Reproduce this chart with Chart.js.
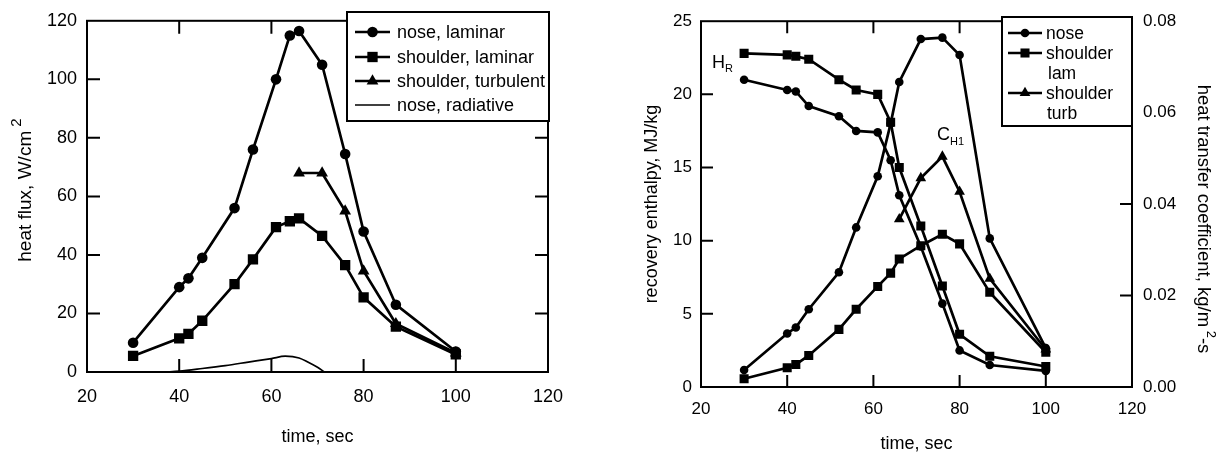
<!DOCTYPE html>
<html>
<head>
<meta charset="utf-8">
<title>Heat flux and recovery enthalpy</title>
<script src="https://cdn.jsdelivr.net/npm/chart.js@4.4.1/dist/chart.umd.min.js"></script>
<style>
  body { margin: 0; background: #fff; }
  #wrap { position: relative; width: 1229px; height: 454px; overflow: hidden; }
  #heatChart { position: absolute; left: 0; top: 0; }
  #coefChart { position: absolute; left: 600px; top: 0; }
</style>
</head>
<body>
<div id="wrap">
  <canvas id="heatChart" width="600" height="454"></canvas>
  <canvas id="coefChart" width="629" height="454"></canvas>
</div>
<script>
// heat flux (left plot)
const fluxTime = [30, 40, 42, 45, 52, 56, 61, 64, 66, 71, 76, 80, 87, 100];
const noseLaminar = [10, 29, 32, 39, 56, 76, 100, 115, 116.5, 105, 74.5, 48, 23, 7];
const shoulderLaminar = [5.5, 11.5, 13, 17.5, 30, 38.5, 49.5, 51.5, 52.5, 46.5, 36.5, 25.5, 15.5, 6];
const turbTime = [66, 71, 76, 80, 87, 100];
const shoulderTurbulent = [68, 68, 55, 34.5, 16.5, 6.5];
const radTime = [37, 40, 45, 50, 55, 60, 63, 66, 68, 70, 71.5];
const noseRadiative = [0, 0.3, 1.2, 2.2, 3.4, 4.6, 5.4, 4.8, 3.3, 1.6, 0];

// recovery enthalpy + heat transfer coefficient (right plot)
const trajTime = [30, 40, 42, 45, 52, 56, 61, 64, 66, 71, 76, 80, 87, 100];
const enthalpyNose = [21.0, 20.3, 20.2, 19.2, 18.5, 17.5, 17.4, 15.5, 13.1, 9.6, 5.7, 2.5, 1.5, 1.1];
const enthalpyShoulder = [22.8, 22.7, 22.6, 22.4, 21.0, 20.3, 20.0, 18.1, 15.0, 11.0, 6.9, 3.6, 2.1, 1.4];
const coefNose = [0.0037, 0.0117, 0.013, 0.017, 0.0251, 0.0349, 0.0461, 0.0576, 0.0667, 0.0761, 0.0764, 0.0726, 0.0325, 0.0085];
const coefShoulderLam = [0.0018, 0.0042, 0.0049, 0.0069, 0.0126, 0.017, 0.022, 0.0249, 0.028, 0.0309, 0.0334, 0.0313, 0.0207, 0.0076];
const coefShoulderTurb = [0.0367, 0.0457, 0.0504, 0.0427, 0.0237, 0.0082];

const timeTicks = [20, 40, 60, 80, 100, 120];

const FONT = "'Liberation Sans', Arial, Helvetica, sans-serif";
Chart.defaults.font.family = FONT;
Chart.defaults.color = '#000';

function pts(xs, ys) {
  return xs.map((x, i) => ({ x: x, y: ys[i] }));
}

function series(label, xs, ys, style, r, axis) {
  return {
    label: label,
    data: pts(xs, ys),
    yAxisID: axis || 'y',
    borderColor: '#000',
    backgroundColor: '#000',
    borderWidth: 2.7,
    pointStyle: style,
    pointRadius: r,
    pointBorderWidth: 0,
    pointBackgroundColor: '#000',
    tension: 0
  };
}

// text with a raised or lowered small part, laid out from (x, y)
function drawParts(ctx, parts, x, y, align) {
  let w = 0;
  parts.forEach(p => { ctx.font = p.size + 'px ' + FONT; w += ctx.measureText(p.text).width; });
  let cx = align === 'center' ? x - w / 2 : x;
  ctx.textAlign = 'left';
  ctx.textBaseline = 'alphabetic';
  parts.forEach(p => {
    ctx.font = p.size + 'px ' + FONT;
    ctx.fillText(p.text, cx, y + (p.dy || 0));
    cx += ctx.measureText(p.text).width;
  });
}

// frame, inward ticks, titles, legend, labels
const framePlugin = {
  id: 'frame',
  afterDraw(chart, args, o) {
    const ctx = chart.ctx, a = chart.chartArea;
    ctx.save();
    ctx.strokeStyle = '#000';
    ctx.fillStyle = '#000';
    ctx.lineWidth = 2;
    ctx.strokeRect(a.left, a.top, a.right - a.left, a.bottom - a.top);

    const len = o.tickLength;
    const xs = chart.scales.x, yl = chart.scales.y, yr = chart.scales[o.rightScale];
    ctx.beginPath();
    xs.ticks.forEach(t => {
      if (t.value <= xs.min || t.value >= xs.max) return;
      const p = xs.getPixelForValue(t.value);
      ctx.moveTo(p, a.bottom); ctx.lineTo(p, a.bottom - len);
      ctx.moveTo(p, a.top); ctx.lineTo(p, a.top + len);
    });
    yl.ticks.forEach(t => {
      if (t.value <= yl.min || t.value >= yl.max) return;
      const p = yl.getPixelForValue(t.value);
      ctx.moveTo(a.left, p); ctx.lineTo(a.left + len, p);
    });
    yr.ticks.forEach(t => {
      if (t.value <= yr.min || t.value >= yr.max) return;
      const p = yr.getPixelForValue(t.value);
      ctx.moveTo(a.right, p); ctx.lineTo(a.right - len, p);
    });
    ctx.stroke();

    // axis titles
    drawParts(ctx, [{ text: 'time, sec', size: 18 }], (a.left + a.right) / 2, o.xTitleY, 'center');
    o.titles.forEach(t => {
      ctx.save();
      ctx.translate(t.x, t.y);
      ctx.rotate(t.rot);
      drawParts(ctx, t.parts, 0, 6, 'center');
      ctx.restore();
    });
    (o.notes || []).forEach(n => drawParts(ctx, n.parts, n.x, n.y, 'left'));

    // legend box
    const L = o.legend;
    ctx.fillStyle = '#fff';
    ctx.fillRect(L.left, L.top, L.right - L.left, L.bottom - L.top);
    ctx.lineWidth = 2;
    ctx.strokeRect(L.left, L.top, L.right - L.left, L.bottom - L.top);
    ctx.fillStyle = '#000';
    L.rows.forEach(r => {
      if (r.ds !== undefined) {
        const ds = chart.data.datasets[r.ds];
        ctx.lineWidth = ds.borderWidth;
        ctx.beginPath();
        ctx.moveTo(L.x1, r.y); ctx.lineTo(L.x2, r.y);
        ctx.stroke();
        if (ds.pointRadius > 0) {
          Chart.helpers.drawPoint(ctx, { pointStyle: ds.pointStyle, radius: ds.pointRadius, borderWidth: 0, rotation: 0 }, (L.x1 + L.x2) / 2, r.y);
        }
      }
      ctx.font = L.size + 'px ' + FONT;
      ctx.textAlign = 'left';
      ctx.textBaseline = 'middle';
      ctx.fillText(r.text, r.tx || L.tx, r.y + 1);
    });
    ctx.restore();
  }
};

new Chart(document.getElementById('heatChart'), {
  type: 'line',
  data: {
    datasets: [
      series('nose, laminar', fluxTime, noseLaminar, 'circle', 5.3),
      series('shoulder, laminar', fluxTime, shoulderLaminar, 'rect', 7.3),
      series('shoulder, turbulent', turbTime, shoulderTurbulent, 'triangle', 6.8),
      Object.assign(series('nose, radiative', radTime, noseRadiative, 'circle', 0), {
        borderWidth: 1.7, tension: 0.4, cubicInterpolationMode: 'monotone'
      })
    ]
  },
  options: {
    responsive: false,
    animation: false,
    layout: { padding: { left: 0, top: 12, right: 52, bottom: 0 } },
    plugins: {
      legend: { display: false },
      tooltip: { enabled: false },
      frame: {
        tickLength: 13,
        rightScale: 'y',
        xTitleY: 442,
        titles: [
          { x: 25, y: 190, rot: -Math.PI / 2, parts: [{ text: 'heat flux, W/cm', size: 19 }, { text: ' 2', size: 15, dy: -10 }] }
        ],
        legend: {
          left: 347, right: 549, top: 12, bottom: 121,
          x1: 355, x2: 390, tx: 397, size: 18,
          rows: [
            { ds: 0, y: 32, text: 'nose, laminar' },
            { ds: 1, y: 57, text: 'shoulder, laminar' },
            { ds: 2, y: 81, text: 'shoulder, turbulent' },
            { ds: 3, y: 105, text: 'nose, radiative' }
          ]
        }
      }
    },
    scales: {
      x: {
        type: 'linear', min: 20, max: 120,
        afterBuildTicks: s => { s.ticks = timeTicks.map(v => ({ value: v })); },
        afterFit: s => { s.height = 82; },
        grid: { display: false, drawTicks: false },
        border: { display: false },
        ticks: { padding: 14, font: { size: 18 } }
      },
      y: {
        min: 0, max: 120,
        afterFit: s => { s.width = 87; },
        grid: { display: false, drawTicks: false },
        border: { display: false },
        ticks: { stepSize: 20, padding: 10, font: { size: 18 } }
      }
    }
  },
  plugins: [framePlugin]
});

new Chart(document.getElementById('coefChart'), {
  type: 'line',
  data: {
    datasets: [
      series('nose', trajTime, enthalpyNose, 'circle', 4.3),
      series('shoulder lam', trajTime, enthalpyShoulder, 'rect', 6.4),
      series('nose', trajTime, coefNose, 'circle', 4.3, 'y1'),
      series('shoulder lam', trajTime, coefShoulderLam, 'rect', 6.4, 'y1'),
      series('shoulder turb', turbTime, coefShoulderTurb, 'triangle', 6.2, 'y1')
    ]
  },
  options: {
    responsive: false,
    animation: false,
    layout: { padding: { left: 0, top: 20, right: 0, bottom: 0 } },
    plugins: {
      legend: { display: false },
      tooltip: { enabled: false },
      frame: {
        tickLength: 12,
        rightScale: 'y1',
        xTitleY: 449,
        titles: [
          { x: 51, y: 204, rot: -Math.PI / 2, parts: [{ text: 'recovery enthalpy, MJ/kg', size: 18 }] },
          { x: 604, y: 219, rot: Math.PI / 2, parts: [
            { text: 'heat transfer coefficient, kg/m', size: 18.5 },
            { text: ' 2', size: 13, dy: -9 },
            { text: '-s', size: 18.5 }
          ] }
        ],
        notes: [
          { x: 112, y: 68, parts: [{ text: 'H', size: 18 }, { text: 'R', size: 11, dy: 4 }] },
          { x: 337, y: 140, parts: [{ text: 'C', size: 18 }, { text: 'H1', size: 11, dy: 5 }] }
        ],
        legend: {
          left: 402, right: 532, top: 17, bottom: 126,
          x1: 408, x2: 442, tx: 446, size: 17.5,
          rows: [
            { ds: 0, y: 33, text: 'nose' },
            { ds: 1, y: 53, text: 'shoulder' },
            { y: 73, text: 'lam', tx: 448 },
            { ds: 4, y: 93, text: 'shoulder' },
            { y: 113, text: 'turb', tx: 447 }
          ]
        }
      }
    },
    scales: {
      x: {
        type: 'linear', min: 20, max: 120,
        afterBuildTicks: s => { s.ticks = timeTicks.map(v => ({ value: v })); },
        afterFit: s => { s.height = 67; },
        grid: { display: false, drawTicks: false },
        border: { display: false },
        ticks: { padding: 12, font: { size: 17 } }
      },
      y: {
        min: 0, max: 25,
        afterFit: s => { s.width = 101; },
        grid: { display: false, drawTicks: false },
        border: { display: false },
        ticks: { stepSize: 5, padding: 9, font: { size: 17 } }
      },
      y1: {
        position: 'right', min: 0, max: 0.08,
        afterFit: s => { s.width = 97; },
        grid: { display: false, drawTicks: false },
        border: { display: false },
        ticks: { stepSize: 0.02, padding: 11, font: { size: 17 }, callback: v => v.toFixed(2) }
      }
    }
  },
  plugins: [framePlugin]
});
</script>
</body>
</html>
